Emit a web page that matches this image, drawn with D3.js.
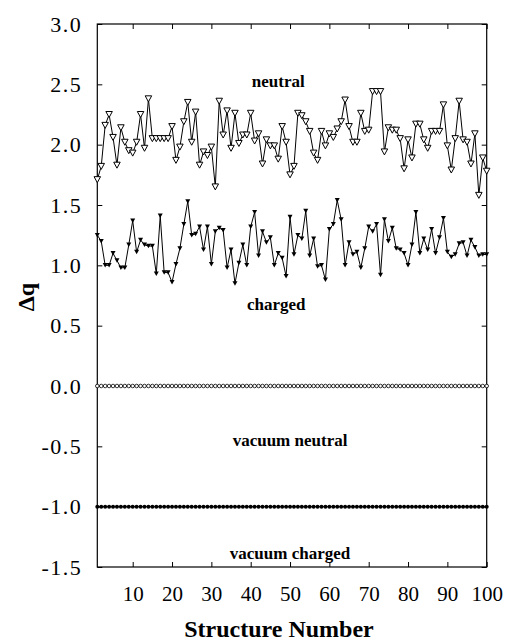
<!DOCTYPE html>
<html>
<head>
<meta charset="utf-8">
<script src="https://cdn.jsdelivr.net/npm/d3@7"></script>
<style>
  html, body { margin: 0; padding: 0; background: #fff; }
  svg { display: block; }
  svg text { font-family: "Liberation Serif", "Times New Roman", Times, "DejaVu Serif", serif; fill: #000; }
</style>
</head>
<body>
<svg id="chart" width="506" height="644"></svg>
<script>
// ---- data ----
const structureNumbers = d3.range(1, 101);

const neutral = [
  1.71, 1.82, 2.16, 2.25, 2.06, 1.83, 2.14, 2.02, 1.95, 1.93,
  2.02, 2.25, 1.97, 2.38, 2.05, 2.05, 2.05, 2.05, 2.05, 2.15,
  1.87, 1.98, 2.19, 2.35, 2.02, 2.27, 1.83, 1.94, 1.91, 1.98,
  1.65, 2.36, 2.08, 2.28, 1.97, 2.26, 2.01, 2.08, 2.08, 2.26,
  2.03, 2.09, 1.84, 2.04, 1.99, 1.99, 1.88, 2.15, 2.02, 1.75,
  1.82, 2.26, 2.24, 2.19, 2.11, 1.93, 1.87, 2.11, 1.99, 2.09,
  2.06, 2.13, 2.19, 2.37, 2.15, 2.02, 2.02, 2.26, 2.11, 2.12,
  2.44, 2.44, 2.44, 1.94, 2.14, 2.12, 2.12, 2.05, 1.80, 2.04,
  1.89, 2.17, 2.17, 2.04, 1.97, 2.11, 2.11, 2.11, 2.33, 1.99,
  1.79, 2.05, 2.36, 2.04, 2.02, 1.84, 2.09, 1.58, 1.89, 1.78
];

const charged = [
  1.25, 1.20, 1.00, 1.00, 1.10, 1.04, 0.98, 0.98, 1.17, 1.37,
  1.11, 1.21, 1.17, 1.16, 1.16, 0.93, 1.41, 0.94, 0.94, 0.86,
  1.01, 1.14, 1.34, 1.53, 1.25, 1.26, 1.32, 1.13, 1.32, 1.01,
  1.28, 1.31, 1.29, 0.98, 1.13, 0.85, 1.02, 1.17, 1.00, 1.32,
  1.44, 1.08, 1.28, 1.19, 1.23, 1.00, 1.10, 1.06, 0.91, 1.40,
  1.09, 1.25, 1.22, 1.45, 1.08, 1.22, 0.99, 1.00, 0.88, 1.30,
  1.34, 1.54, 1.38, 1.00, 1.19, 1.09, 1.11, 0.98, 1.14, 1.32,
  1.28, 1.34, 0.92, 1.38, 1.20, 1.31, 1.14, 1.13, 1.10, 1.00,
  1.17, 1.44, 1.10, 1.22, 1.13, 1.30, 1.10, 1.23, 1.39, 1.11,
  1.07, 1.09, 1.18, 1.19, 1.08, 1.21, 1.15, 1.08, 1.09, 1.09
];

const vacuumNeutral = structureNumbers.map(() => 0.0);
const vacuumCharged = structureNumbers.map(() => -1.0);

const xTicks = [10, 20, 30, 40, 50, 60, 70, 80, 90, 100];
const yTicks = [-1.5, -1.0, -0.5, 0.0, 0.5, 1.0, 1.5, 2.0, 2.5, 3.0];

const annotations = [
  { text: "neutral", x: 47, y: 2.48 },
  { text: "charged", x: 46.5, y: 0.63 },
  { text: "vacuum neutral", x: 50, y: -0.5 },
  { text: "vacuum charged", x: 50, y: -1.43 }
];

// ---- layout ----
const svg = d3.select("#chart");
const mLeft = 97.3, mRight = 486.7, mTop = 24, mBottom = 567;
const serif = '"Liberation Serif", "Times New Roman", Times, "DejaVu Serif", serif';

const x = d3.scaleLinear().domain([1, 100]).range([mLeft, mRight]);
const y = d3.scaleLinear().domain([-1.5, 3.0]).range([mBottom, mTop]);

// axes
const fmt = d => d3.format(".1f")(d).replace("\u2212", "-");
const gL = svg.append("g").attr("transform", `translate(${mLeft},0)`)
  .call(d3.axisLeft(y).tickValues(yTicks).tickFormat(fmt).tickSize(-5).tickPadding(15));
const gR = svg.append("g").attr("transform", `translate(${mRight},0)`)
  .call(d3.axisRight(y).tickValues(yTicks).tickFormat("").tickSize(-5));
const gB = svg.append("g").attr("transform", `translate(0,${mBottom})`)
  .call(d3.axisBottom(x).tickValues(xTicks).tickFormat(d3.format("d")).tickSize(-5).tickPadding(19));
const gT = svg.append("g").attr("transform", `translate(0,${mTop})`)
  .call(d3.axisTop(x).tickValues(xTicks).tickFormat("").tickSize(-5));

[gL, gR, gB, gT].forEach(g => {
  g.attr("font-family", null);
  g.select(".domain").remove();
  g.selectAll("line").attr("stroke", "#000").attr("stroke-width", 1);
  g.selectAll("text").style("font-family", serif).attr("fill", "#000");
});
gL.selectAll("text").attr("font-size", 22).style("letter-spacing", "1.5px");
gB.selectAll("text").attr("font-size", 21);

svg.append("rect")
  .attr("x", mLeft).attr("y", mTop)
  .attr("width", mRight - mLeft).attr("height", mBottom - mTop)
  .attr("fill", "none").attr("stroke", "#000").attr("stroke-width", 1.2);

// series lines
const line = d3.line().x((d, i) => x(structureNumbers[i])).y(d => y(d));

function drawLine(data) {
  svg.append("path").datum(data)
    .attr("d", line).attr("fill", "none")
    .attr("stroke", "#000").attr("stroke-width", 1);
}
drawLine(neutral);
drawLine(charged);
drawLine(vacuumNeutral);
drawLine(vacuumCharged);

// markers
const triDown = (cx, cy, w, h) =>
  `M${cx - w / 2},${cy - h / 2}L${cx + w / 2},${cy - h / 2}L${cx},${cy + h / 2}Z`;

svg.append("g").selectAll("path").data(neutral).join("path")
  .attr("d", (d, i) => triDown(x(structureNumbers[i]), y(d), 6.5, 6))
  .attr("fill", "#fff").attr("stroke", "#000").attr("stroke-width", 1);

svg.append("g").selectAll("path").data(charged).join("path")
  .attr("d", (d, i) => triDown(x(structureNumbers[i]), y(d), 5, 4.5))
  .attr("fill", "#000");

svg.append("g").selectAll("circle").data(vacuumNeutral).join("circle")
  .attr("cx", (d, i) => x(structureNumbers[i])).attr("cy", d => y(d))
  .attr("r", 1.8).attr("fill", "#fff").attr("stroke", "#000").attr("stroke-width", 0.8);

svg.append("g").selectAll("circle").data(vacuumCharged).join("circle")
  .attr("cx", (d, i) => x(structureNumbers[i])).attr("cy", d => y(d))
  .attr("r", 2).attr("fill", "#000");

// annotations
svg.append("g").selectAll("text").data(annotations).join("text")
  .attr("x", d => x(d.x)).attr("y", d => y(d.y))
  .attr("text-anchor", "middle")
  .attr("font-size", 17).attr("font-weight", "bold")
  .style("font-family", serif)
  .text(d => d.text);

// axis titles
svg.append("text")
  .attr("x", 279).attr("y", 637)
  .attr("text-anchor", "middle")
  .attr("font-size", 24).attr("font-weight", "bold")
  .style("font-family", serif)
  .text("Structure Number");

svg.append("text")
  .attr("transform", "translate(34,297) rotate(-90)")
  .attr("text-anchor", "middle")
  .attr("font-size", 24).attr("font-weight", "bold")
  .style("font-family", serif)
  .text("Δq");
</script>
</body>
</html>
